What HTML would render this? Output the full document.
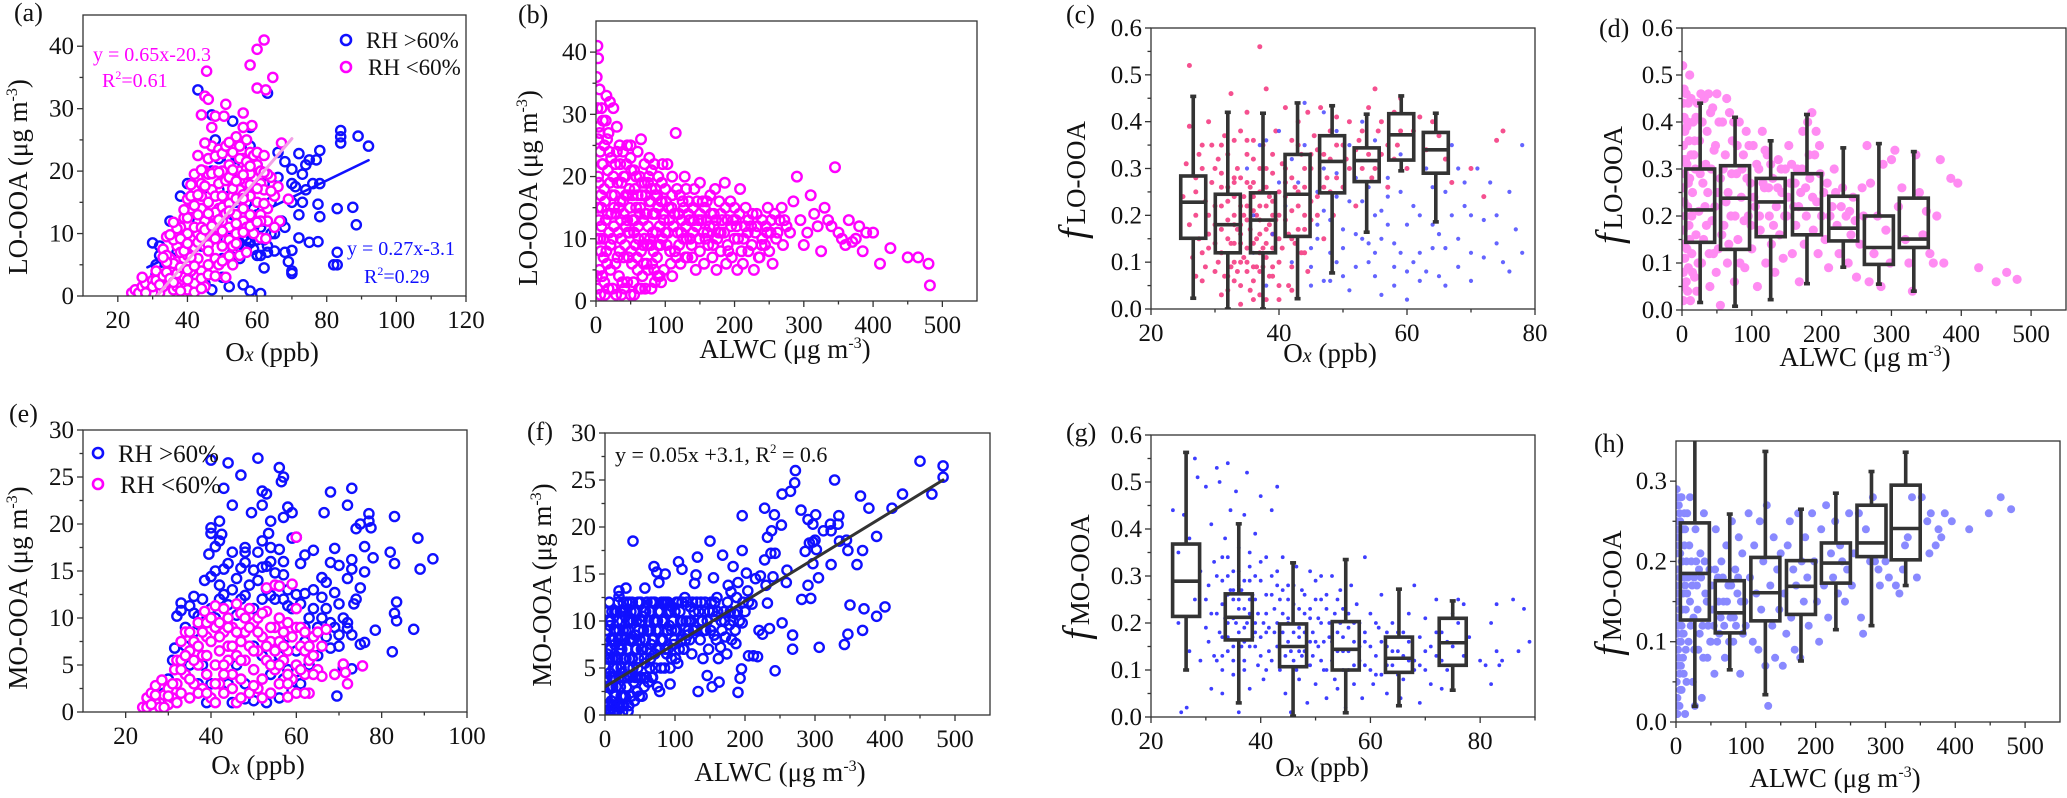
<!DOCTYPE html>
<html><head><meta charset="utf-8"><title>LO-OOA and MO-OOA vs Ox and ALWC</title>
<style>
html,body{margin:0;padding:0;background:#fff;}
svg, svg text{font-family:"Liberation Serif","Times New Roman",serif;}
</style></head>
<body>
<svg id="fig" xmlns="http://www.w3.org/2000/svg" width="2067" height="793" viewBox="0 0 2067 793" font-family="Liberation Serif, serif">
<rect x="0" y="0" width="2067" height="793" fill="#fff"/>
<g id="marks"></g>
<g font-size="26" fill="#111">
<text x="14" y="21">(a)</text>
<text x="518" y="23">(b)</text>
<text x="1066" y="23">(c)</text>
<text x="1599" y="37">(d)</text>
<text x="9" y="422">(e)</text>
<text x="527" y="440">(f)</text>
<text x="1066" y="441">(g)</text>
<text x="1594" y="452">(h)</text>
</g>
<g font-size="27" fill="#111" text-anchor="middle">
<text x="27" y="177" transform="rotate(-90 27 177)">LO-OOA (μg m<tspan dy="-10" font-size="16">-3</tspan><tspan dy="10">)</tspan></text>
<text x="537" y="188" transform="rotate(-90 537 188)">LO-OOA (μg m<tspan dy="-10" font-size="16">-3</tspan><tspan dy="10">)</tspan></text>
<text x="27" y="588" transform="rotate(-90 27 588)">MO-OOA (μg m<tspan dy="-10" font-size="16">-3</tspan><tspan dy="10">)</tspan></text>
<text x="551" y="585" transform="rotate(-90 551 585)">MO-OOA (μg m<tspan dy="-10" font-size="16">-3</tspan><tspan dy="10">)</tspan></text>
<text x="1085" y="180" transform="rotate(-90 1085 180)"><tspan font-style="italic" font-size="38">f</tspan><tspan font-size="27" dx="4">LO-OOA</tspan></text>
<text x="1622" y="185" transform="rotate(-90 1622 185)"><tspan font-style="italic" font-size="38">f</tspan><tspan font-size="27" dx="4">LO-OOA</tspan></text>
<text x="1089" y="577" transform="rotate(-90 1089 577)"><tspan font-style="italic" font-size="38">f</tspan><tspan font-size="27" dx="4">MO-OOA</tspan></text>
<text x="1621" y="593" transform="rotate(-90 1621 593)"><tspan font-style="italic" font-size="38">f</tspan><tspan font-size="27" dx="4">MO-OOA</tspan></text>
<text x="272" y="361">O<tspan font-style="italic" font-size="20">x</tspan> (ppb)</text>
<text x="785" y="358">ALWC (μg m<tspan dy="-10" font-size="16">-3</tspan><tspan dy="10">)</tspan></text>
<text x="1330" y="362">O<tspan font-style="italic" font-size="20">x</tspan> (ppb)</text>
<text x="1865" y="366">ALWC (μg m<tspan dy="-10" font-size="16">-3</tspan><tspan dy="10">)</tspan></text>
<text x="258" y="774">O<tspan font-style="italic" font-size="20">x</tspan> (ppb)</text>
<text x="780" y="781">ALWC (μg m<tspan dy="-10" font-size="16">-3</tspan><tspan dy="10">)</tspan></text>
<text x="1322" y="776">O<tspan font-style="italic" font-size="20">x</tspan> (ppb)</text>
<text x="1835" y="787">ALWC (μg m<tspan dy="-10" font-size="16">-3</tspan><tspan dy="10">)</tspan></text>
</g>
<g font-size="23" fill="#111">
<circle cx="346" cy="40" r="5" fill="none" stroke="#1010ff" stroke-width="2.6"/>
<text x="366" y="48">RH &gt;60%</text>
<circle cx="346" cy="67" r="5" fill="#fff" stroke="#ff00ff" stroke-width="2.6"/>
<text x="368" y="75">RH &lt;60%</text>
<circle cx="98" cy="453" r="5" fill="none" stroke="#1010ff" stroke-width="2.6"/>
<text x="118" y="462" font-size="25">RH &gt;60%</text>
<circle cx="98" cy="484" r="5" fill="#fff" stroke="#ff00ff" stroke-width="2.6"/>
<text x="120" y="493" font-size="25">RH &lt;60%</text>
<text x="93" y="61" font-size="20" fill="#ff00ff">y = 0.65x-20.3</text>
<text x="102" y="87" font-size="20" fill="#ff00ff">R<tspan dy="-8" font-size="12">2</tspan><tspan dy="8">=0.61</tspan></text>
<text x="347" y="255" font-size="20" fill="#1010ff">y = 0.27x-3.1</text>
<text x="364" y="283" font-size="20" fill="#1010ff">R<tspan dy="-8" font-size="12">2</tspan><tspan dy="8">=0.29</tspan></text>
<text x="615" y="462" font-size="22">y = 0.05x +3.1, R<tspan dy="-9" font-size="13">2</tspan><tspan dy="9"> = 0.6</tspan></text>
</g>
</svg>
<script>
// ---------- tick arrays ----------
const aXTicks=[20,40,60,80,100,120], aXMinor=[30,50,70,90,110];
const aYTicks=[0,10,20,30,40], aYMinor=[5,15,25,35];
const bXTicks=[0,100,200,300,400,500], bXMinor=[50,150,250,350,450];
const bYTicks=[0,10,20,30,40], bYMinor=[5,15,25,35];
const fracTicks=[0,0.1,0.2,0.3,0.4,0.5,0.6], fracMinor=[0.05,0.15,0.25,0.35,0.45,0.55];
const cXTicks=[20,40,60,80], cXMinor=[30,50,70];
const eXTicks=[20,40,60,80,100], eXMinor=[30,50,70,90];
const eYTicks=[0,5,10,15,20,25,30], eYMinor=[2.5,7.5,12.5,17.5,22.5,27.5];
const gXTicks=[20,40,60,80], gXMinor=[30,50,70,90];
const hYTicks=[0,0.1,0.2,0.3], hYMinor=[0.05,0.15,0.25];

// ---------- panel (a) data [Ox, LO-OOA] ----------
const aBlue=[43,33,63,32.5,84,26.5,84,25.5,84,24.5,89,25.6,92,24,78,23.3,72,22.8,75,21.8,77,21.8,70,20.3,74,21,68,21.5,66,23,83,14,87.5,14.2,88.5,11.4,77.5,14.7,78,12.7,72,13,73,15,74,17,76,18,78,18,70,18,71,17.5,72,9.3,75,8.6,77.5,8.7,82,5,83,5,83,7,70,7.3,68,7,70,4,70,3.6,69,5.5,62,4.5,58,0.8,61,0.4,56,1.8,52,1.5,50,3,55,6,60,6.5,63,7,65,7.2,67,12,68,11,65,10,62,9,57,9,56,8,58,8.5,55,10,59,11,60,13,57,15,56,18,54,22,52,22,49,22,48,25,47,29,53,28,58,27,38,16,40,18,35,12,30,8.5,32,6.5,31,5,33,4,36,6,40,3,45,2,47,1,44,8,50,11,53,13,46,16,57,19,60,21,62,18,64,15,66,19,70,15,73,19.5,55,8.5,56,9.5,54,7.5,57,7.8];
const aBlue2=[50,6,51,9,52,12,53,7,54,15,55,11,56,14,57,12,58,10,59,14,60,9,61,11,62,12,63,8,64,10,54,18,55,19,57,17,58,17,52,16,50,14,49,17,48,13,47,20,51,20,53,10.5,59,7.5,61,6.5,45,9,43,12,41,13,39,10,37,7,34,5.5,31,3.5,32,8,56,21,58,24,61,19];
const aPink=[62,41,60,39.5,58,37,45.5,36,64.5,35,60,33.3,62.5,33,45,32,46,31.5,51,30.7,44,29,48,28.8,50.5,28.8,56,29.3,58.5,27.3,47,27,56,27,67,24.5,69,15.5,65,16,66,17.5,64,19,66.5,12,65,11,61,9.3,62.5,9.2,24,0.5,25,1,26,0.5,27,1.5,28,2,29,0.8,30,2.5,31,1,32,3,33,7.5,34,9.5,35,6,36,4,37,8,38,11,39,12.5,40,15.5,41,14,42,17,43,19,44,18,45,20,46,19.5,47,17,48,20,49,18,50,20,51,18.5,52,21,53,23,54,25.5,55,24,56,22,57,25,58,23,59,22.5,60,21,61,18,62,17,63,14,60,15,58,13,56,12,54,10,52,9,50,8,48,6,46,5,44,4,42,2,40,1,38,2.5,36,1,34,2,32,0.5,35,4,37,5.5,39,6,41,8,43,10,45,12,47,13,49,14,51,15,53,16,55,17,57,18,59,19,61,13,63,12,40,10,42,11,44,14,46,15,48,16,50,12,52,11,54,13,56,14,58,16,45,8,47,9,49,10,51,6,53,5,55,6.5,57,7,43,6,41,4,39,3,37,1.5,36,9,38,7,40,6.5,44,16,46,22,47,24,49,23.5,52,19,48,11,50,16,43,13,45,24.5,43,22.5,41,16,42,19.5,44,11,46,10,53,8,55,20,57,11,59,10,61,12,49,5,51,3,45,1.5,33,1.5,30,0.5,28,0.5,27,3,31,4,34,6.5];
const aPink2=[30,1.5,31,2.5,32,1.8,33,3.2,34,3.8,35,2.8,36,5.2,37,3.6,38,4.6,39,7.2,40,4.2,41,6.2,42,7.8,43,8.6,44,9.4,45,10.6,46,8.2,47,11.2,48,13.4,49,12.2,50,14.2,51,13.2,52,14.8,53,17.2,54,15.6,55,18.6,56,16.2,57,20.4,58,19.6,59,17.4,60,23,61,20,62,22.5,63,19.5,64,16.8,40,12.5,41,17.8,42,14.5,43,16.2,44,20.2,45,17.6,46,13.2,47,19.6,48,22.4,49,19.8,50,22.8,51,24,52,24.6,53,20.2,54,18.4,55,22,56,19.4,57,21.5,58,20.8,38,9.2,37,10.8,36,11.8,35,9.8,34,5.4,33,6.2,39,13.8,40,8.4,42,4.8,44,2.8,46,3.4,48,3.2,50,5.6,52,6.4,54,8.4,56,10.2,58,11.2,60,11.8,62,14.8,36,2.2,38,0.8,40,2.6,42,0.6,44,1.2,46,7.2,48,9.2,50,10.4,52,13.6,54,11.6,56,15.6,58,17.8,60,17.2,62,19.8];
const aBlueFit=[28.5,92], aBlueSlope=0.27, aBlueIntercept=-3.1;
const aPinkFit=[31.2,70], aPinkSlope=0.65, aPinkIntercept=-20.3;

// ---------- panel (b) data [ALWC, LO-OOA] ----------
const bPink=[2,41,3,39,1,36,5,34,2,31,8,31,4,28,10,29,15,33,20,32,25,31,3,26,6,24,12,25,18,27,22,23,30,28,35,22,40,20,45,25,50,23,55,21,60,24,65,26,70,22,75,19,80,21,85,17,90,20,95,16,100,18,105,15,110,17,115,27,120,14,125,16,130,18,135,13,140,15,145,12,150,14,155,11,160,13,165,17,170,12,175,10,180,14,185,11,190,9,195,12,200,15,205,10,210,8,215,12,220,13,225,9,230,11,235,7,240,10,245,12,250,8,255,6,260,10,265,13,270,9,275,12,280,11,285,16,290,20,295,13,300,9,305,11,310,17,315,14,320,12,325,8,330,15,335,13,340,12,345,21.5,350,11,355,10,360,9,365,13,370,9.5,375,10,380,12,385,8,390,11,400,11,410,6,425,8.5,450,7,465,7,480,6,482,2.5,5,5,8,12,12,18,15,8,18,2,22,14,25,20,28,6,32,11,35,16,38,3,42,9,45,13,48,18,52,6,55,11,58,15,62,2,65,8,68,13,72,17,75,5,78,10,82,14,85,3,88,7,92,12,95,19,98,5,102,9,106,13,110,4,114,8,118,11,122,6,126,10,132,7,138,9,144,5,150,8,156,6,162,9,168,7,174,5,180,8,188,6,196,7,204,5,212,6,220,8,228,5,236,7,244,9,252,11,10,22,20,19,30,24,40,14,50,1,60,17,70,10,80,2,90,15,100,11,110,20,120,9,130,12,140,11,150,19,160,16,170,14,180,11,190,13,200,10,3,15,6,10,9,4,14,13,17,21,26,15,33,4,37,19,44,22,47,7,53,13,57,9,63,20,67,4,73,14,77,23,83,8,87,11,93,9,97,14,103,22,108,6,113,14,117,18,124,13,128,20,134,16,142,18,148,13,154,16,158,10,164,12,172,18,178,16,186,19,194,16,202,13,208,18,216,15,224,12,232,14,240,13,248,15,258,14,268,15,2,2,4,19,7,17,11,7,13,1,16,26,19,11,21,5,24,10,27,17,29,1,31,19,34,8,36,13,39,24,41,2,43,17,46,11,49,15,51,21,54,3,56,18,59,7,61,12,64,15,66,19,69,6,71,2,74,9,76,20,79,16,81,6,84,22,86,18,89,4,91,9,94,3,96,22];
const bPink2=[1,4,2,10,3,20,4,13,5,27,6,1,7,8,8,15,9,22,11,10,12,3,13,16,14,29,16,6,17,14,19,24,21,9,23,17,24,2,26,12,28,22,29,14,31,7,33,15,34,25,36,10,37,1,39,16,40,7,42,20,43,12,45,3,46,17,48,11,50,25,51,8,53,17,55,1,56,13,58,20,60,5,61,10,63,14,65,2,66,17,68,9,70,19,71,14,73,6,75,12,77,16,79,9,80,18,82,11,84,5,86,14,88,17,90,9,92,4,94,16,96,10,98,13,101,16,104,11,107,8,109,15,112,12,116,7,119,14,121,17,123,11,127,15,129,7,131,10,133,14,136,10,139,7,141,13,146,16,149,10,152,13,157,15,161,11,166,14,169,9,173,13,177,11,182,13,187,15,191,8,198,13,203,12,207,14,213,10,219,11,226,14,233,12,239,9,247,11,253,13,262,11,272,13];

// ---------- panel (c) data [Ox, fLO-OOA] ----------
const cPink=[25,0.24,25.5,0.31,26,0.39,26,0.52,26.5,0.11,27,0.2,27,0.28,27.5,0.15,28,0.35,28,0.06,28.5,0.23,29,0.4,29,0.13,29.5,0.27,30,0.18,30,0.08,30.5,0.32,31,0.22,31,0.03,31.5,0.37,32,0.15,32,0.26,32.5,0.46,33,0.1,33,0.2,33.5,0.3,34,0.05,34,0.14,34.5,0.24,35,0.42,35,0.33,35.5,0.17,36,0.09,36,0.27,36.5,0.2,37,0.12,37,0.56,37.5,0.35,38,0.22,38,0.47,38.5,0.07,39,0.29,39,0.16,39.5,0.38,40,0.25,40,0.1,40.5,0.31,41,0.19,41,0.43,41.5,0.05,42,0.28,42,0.36,42.5,0.14,43,0.22,43,0.4,43.5,0.33,44,0.26,44,0.12,44.5,0.42,45,0.3,45,0.19,45.5,0.37,46,0.24,46.5,0.43,47,0.33,47,0.15,47.5,0.28,48,0.38,48.5,0.2,49,0.35,49,0.41,50,0.26,50.5,0.32,51,0.4,52,0.22,52.5,0.36,53,0.3,54,0.43,54.5,0.28,55,0.47,55.5,0.38,56,0.33,57,0.26,58,0.42,58.5,0.35,59,0.45,60,0.3,61,0.38,62,0.41,63,0.34,64,0.4,65,0.37,66,0.32,67,0.27,70,0.3,72,0.24,74,0.36,75,0.38,31,0.12,32,0.19,33,0.24,34,0.18,35,0.13,36,0.21,37,0.16,38,0.11,39,0.2,33,0.06,35,0.08,37,0.03,30,0.14,34,0.28,36,0.32,38,0.26,40,0.15,42,0.21,44,0.3,46,0.34,48,0.25,32,0.33,34,0.38,36,0.36,31,0.29,29,0.2,28,0.12,27,0.07,33,0.14,35,0.22,37,0.25,39,0.13,32.5,0.09,33.5,0.17,34.5,0.11,35.5,0.04,36.5,0.15,37.5,0.09,38.5,0.18,34,0.22,35,0.27,36,0.06,37,0.19,38,0.14,33,0.27,39,0.09];
const cPink2=[30,0.22,30.5,0.1,31,0.17,31.5,0.07,32,0.23,32.5,0.14,33,0.28,33.5,0.08,34,0.16,34.5,0.2,35,0.1,35.5,0.26,36,0.14,36.5,0.09,37,0.22,37.5,0.13,38,0.17,38.5,0.24,39,0.07,39.5,0.19,40,0.2,40.5,0.13,41,0.24,41.5,0.16,42,0.09,42.5,0.26,43,0.17,43.5,0.12,44,0.2,44.5,0.08,30,0.3,31,0.26,32,0.07,33,0.18,34,0.1,35,0.19,36,0.24,37,0.08,38,0.3,39,0.23,40,0.05,41,0.27,42,0.15,43,0.25,44,0.17,45,0.23,46,0.2,47,0.26,48,0.32,49,0.28,50,0.35,51,0.3,52,0.34,53,0.38,54,0.33,55,0.3,56,0.4,57,0.35,58,0.32,59,0.38,27,0.25,28,0.3,29,0.16,26,0.18,27.5,0.33,28.5,0.09,29.5,0.35,31,0.35,33,0.36,35,0.36,37,0.3,39,0.33,41,0.3,43,0.35,45,0.33,36,0.02,34,0.01,38,0.02,32,0.04,40,0.02,42,0.04];
const cBlue=[35,0.3,36,0.2,37,0.35,38,0.05,39,0.16,40,0.38,41,0.22,42,0.1,43,0.27,44,0.44,45,0.05,46,0.18,47,0.3,48,0.12,49,0.24,50,0.07,51,0.35,52,0.16,53,0.4,54,0.1,55,0.2,56,0.03,57,0.28,58,0.14,59,0.33,60,0.08,61,0.22,62,0.12,63,0.3,64,0.18,65,0.07,66,0.25,67,0.35,68,0.15,69,0.22,70,0.06,71,0.3,72,0.11,73,0.27,74,0.2,75,0.1,76,0.25,77,0.17,78,0.35,44,0.35,46,0.25,48,0.06,50,0.17,52,0.28,54,0.14,56,0.21,58,0.09,60,0.02,62,0.06,64,0.26,66,0.13,68,0.3,70,0.2,42,0.32,40,0.27,38,0.36,36,0.12,45,0.13,47,0.21,49,0.1,51,0.04,53,0.23,55,0.12,57,0.18,59,0.25,47,0.42,49,0.38,55,0.36];
const cBlue2=[45,0.09,46,0.15,47,0.06,48,0.19,49,0.29,50,0.13,51,0.23,52,0.09,53,0.15,54,0.26,55,0.07,56,0.15,57,0.24,58,0.05,59,0.12,60,0.18,61,0.1,62,0.2,63,0.08,64,0.13,65,0.16,66,0.05,67,0.2,68,0.09,69,0.27,70,0.12,72,0.19,74,0.14,76,0.08,78,0.12];
const cCenters=[26.6,32,37.5,42.9,48.3,53.7,59.1,64.5];
const cLow=[0.023,0,0,0.022,0.077,0.164,0.295,0.186];
const cQ1=[0.151,0.12,0.12,0.155,0.248,0.272,0.318,0.29];
const cMed=[0.228,0.18,0.19,0.245,0.315,0.317,0.372,0.34];
const cQ3=[0.284,0.245,0.248,0.33,0.37,0.344,0.417,0.377];
const cHigh=[0.454,0.42,0.418,0.44,0.434,0.416,0.455,0.418];

// ---------- panel (d) data [ALWC, fLO-OOA] ----------
const dPink=[2,0.02,3,0.05,2,0.08,4,0.11,3,0.14,2,0.17,5,0.2,3,0.23,2,0.26,4,0.29,3,0.32,2,0.35,4,0.38,3,0.41,2,0.44,3,0.47,1,0.52,8,0.04,9,0.09,7,0.13,10,0.18,8,0.22,9,0.27,7,0.31,10,0.36,8,0.4,9,0.44,6,0.46,12,0.02,14,0.12,15,0.25,13,0.33,16,0.4,18,0.07,20,0.16,19,0.3,22,0.44,24,0.21,25,0.36,28,0.1,30,0.27,32,0.45,35,0.18,36,0.38,40,0.05,42,0.3,44,0.43,47,0.22,48,0.35,50,0.46,52,0.13,55,0.01,55,0.28,58,0.4,60,0.18,62,0.33,65,0.1,66,0.25,68,0.42,70,0.2,72,0.36,75,0.06,78,0.29,80,0.15,82,0.4,85,0.24,88,0.33,90,0.09,92,0.38,95,0.2,98,0.27,100,0.13,102,0.35,105,0.22,108,0.05,110,0.3,112,0.17,115,0.38,118,0.26,120,0.1,122,0.33,125,0.2,128,0.14,130,0.28,133,0.08,135,0.22,138,0.32,140,0.16,143,0.25,145,0.11,148,0.3,150,0.2,153,0.35,155,0.27,158,0.12,160,0.22,163,0.18,165,0.3,168,0.06,170,0.25,173,0.38,175,0.14,178,0.2,180,0.4,183,0.28,186,0.42,188,0.17,190,0.33,193,0.23,195,0.12,198,0.29,200,0.2,205,0.15,208,0.27,210,0.09,215,0.22,218,0.3,222,0.18,225,0.12,230,0.26,235,0.2,238,0.1,242,0.16,245,0.24,250,0.07,255,0.14,260,0.2,265,0.35,268,0.06,270,0.27,275,0.12,280,0.2,285,0.05,288,0.31,292,0.17,298,0.1,300,0.32,305,0.34,310,0.22,315,0.26,320,0.15,325,0.1,330,0.04,335,0.33,340,0.25,345,0.16,350,0.21,355,0.12,360,0.1,365,0.2,370,0.32,375,0.1,385,0.28,395,0.27,425,0.09,450,0.06,465,0.08,480,0.065];
const dPink2=[11,0.28,14,0.2,17,0.33,20,0.41,23,0.1,26,0.29,29,0.4,31,0.15,34,0.31,37,0.25,39,0.12,41,0.42,43,0.19,46,0.34,49,0.08,51,0.25,53,0.4,57,0.16,59,0.3,63,0.23,64,0.45,67,0.14,71,0.29,74,0.4,76,0.2,79,0.35,83,0.1,86,0.3,89,0.19,93,0.28,96,0.35,99,0.18,103,0.24,107,0.31,111,0.2,116,0.27,119,0.34,124,0.26,127,0.31,131,0.18,137,0.26,142,0.3,147,0.2,152,0.24,157,0.31,162,0.27,167,0.22,172,0.3,177,0.26,182,0.33,187,0.24,192,0.38,197,0.35,203,0.25,212,0.2,220,0.25,228,0.22,240,0.21,248,0.19,258,0.26,6,0.06,11,0.5,13,0.45,15,0.08,5,0.32,7,0.39,11,0.15,18,0.36,21,0.04,27,0.46,33,0.22,45,0.12,38,0.46];
const dCenters=[26,76,127,179,231,282,332];
const dLow=[0.016,0.008,0.022,0.056,0.091,0.055,0.04];
const dQ1=[0.144,0.129,0.156,0.16,0.147,0.097,0.133];
const dMed=[0.213,0.238,0.23,0.215,0.174,0.133,0.151];
const dQ3=[0.30,0.307,0.28,0.29,0.242,0.2,0.238];
const dHigh=[0.44,0.41,0.36,0.416,0.345,0.354,0.337];

// ---------- panel (e) data [Ox, MO-OOA] ----------
const eBlue=[40,26.8,44,26.5,51,27,56,26,57,25,56.5,24.5,47,25.2,43,23.8,52,23.5,53,23.2,68,23.4,73,23.8,72,22,45,22,52,22,49.5,21.2,58,21.8,59,21.2,66.5,21.2,77,21.1,77,20.3,75,20,74,19.5,77.5,19.6,83,20.8,42,20.3,40,19.6,40,19,41,17.6,42,18.2,42.5,18.9,48,17.5,48,17,52,18.2,54,17.5,56,17.3,57,20.7,59,18.5,54,20.3,53.5,19,60,18.6,61,15.8,62,16.7,64,17.2,68,15.9,69,17.4,70,15.6,72,14.2,73,16.2,73,15.2,76,17.6,76,14.9,78,16.4,82,17,83,15.8,88.5,18.5,89,15.2,92,16.3,39.5,16.8,38.5,14,40,14.4,42,13.5,43,15.2,44,15.8,46,14.2,47,15.3,48,15.9,50,15.1,52,15.4,54,16,55,14.8,57,14.6,53,13.1,56,13.4,58,13,36,12.3,35,11.3,33,11.6,32,10.2,33,10.8,37,10.2,39,9.5,42,12,44,11.4,46,10.3,48,12.4,50,11,52,12,54,12.4,58,11.3,60,12.5,62,12.6,64,13,66,12.2,66,14.3,67,13.8,69,12.7,70,11.5,71,10,72,8.9,73,8.2,73.5,11.5,74,12,75,13.2,75,7.2,76,7.4,78.5,8.7,82.5,6.4,83,10.5,83.5,11.7,83.5,9.7,87.5,8.8,69.5,1.7,70,7,68,6.8,65,6,63,5,61,3,60,4.3,56,6,58,8,62,9,64,11,31.5,6.8,31,5.5,34,7,36,8.5,38,5,40,3,45,1,48,1.4,50,1.2,53,1,55,5,57,3.5,59,2.3,67,8,68,9.5,70,8.2,72,9.5,71,4.7,73,4.6,30,3.5,29,2,28,1.2];
const eBlue2=[34,9,36,10.5,38,12,40,11,41,10,43,12.5,45,13,47,12,49,13.5,51,14,53,15.5,55,12,57,12,59,11,61,11.5,63,10,65,9,67,11,35,5,37,3,39,1,44,3,46,5,48,3,50,7,52,6,54,4,56,1.5,58,4.5,60,6.5,62,7.5,64,8,66,10,69,9,41,15,45,17,51,17,57,16];
const ePink=[24,0.5,25,1.5,25,0.5,26,2,27,1,27,2.8,28,0.5,28.5,3.4,29,1.8,30,2.5,30,0.8,31,1.5,31.5,4.5,32,5.5,32,3,33,2,33,7.5,34,8.5,34,4,35,6.5,35,1.5,36,3,36,7.5,37,5,37,9.5,38,6,38,2.5,38.5,10.7,39,8,39,4,40,7.5,40,1.5,41,11.3,41,9,41,5,42,3,42,6.5,42,9.5,43,8.5,43,2,44,5.5,44,7,45,4,45,9,46,11.5,46,6,46,1,47,10.5,47,3.5,48,8.5,48,5.5,49,11,49,7,49,2,50,9.5,50,4.5,51,6.5,51,10,52,3.5,52,8,53,10.7,53,5.5,53,13.2,54,7.5,54,2,55,13.5,55,9,55,4.5,56,13.4,56,7.5,56,3,57,5.5,58,9.5,58,1.6,58,6.5,59,13.6,59,3.5,60,18.6,60,9,60,5,61,7,62,4,62,6.5,63,5.5,63,2,64,8,64,6,65,4.5,65,8.5,66,3.8,66,7,67,8.8,69,4,71,5.1,71.5,4.2,72,3,75.5,4.9,44,10,43,11,39,9.5,37,7,35,8.5,33,4.5,47,7.5,51,2.5,57,8.5,61,9];
const ePink2=[26,0.8,27,1.8,29,0.5,30,1.7,31,3,32,1,33,5.5,34,6,35,3.5,36,5.5,37,2,38,8.5,39,6,40,10,41,3,42,8,43,5,44,9,45,7,46,8.5,47,5.5,48,10,49,9,50,6.5,51,8.5,52,10.5,53,7,54,9,55,6.5,56,10,57,7,58,4,59,8,60,11,61,4.5,62,8.5,63,7,64,4,39,2,41,1,43,4,45,2.5,47,1.5,50,2.8,52,1.5,54,5,56,5,58,3,60,2,62,2];

// ---------- panel (f) data [ALWC, MO-OOA] ----------
const fBlue=[450,27,483,26.5,483,25.3,467,23.5,425,23.5,410,22,388,19,365,23.3,377,22,360,16,368,17.5,347,17.5,345,18.6,350,11.7,370,11.3,388,10.5,400,11.5,347,8.6,342,7.5,368,9,306,7.2,268,8.5,268,7,253,9.8,243,4.7,272,26,271,24.7,265,23.8,253,23.5,228,22,242,21.3,252,20.2,238,19.6,232,18.9,196,21.2,150,18.5,40,18.5,168,17,196,17.5,132,16.8,105,16.3,110,15.5,70,15.8,74,15.2,86,15,77,14.1,57,13.5,30,13.5,20,12.6,20,13.2,35,12,328,25,280,21.8,290,20.8,297,20.3,301,21.3,322,20.3,323,19.6,333,20.3,334,21.2,312,19.6,335,18.5,300,18.6,286,17.4,292,18.3,297,18.4,302,17.6,297,16.1,323,16,305,14.6,290,13.8,281,12.3,294,12.4,259,14.1,260,15.4,243,17.2,237,17.2,228,16.5,240,14.7,230,13.8,222,14.8,215,14.5,202,15.1,204,13.2,210,11.8,180,13.1,183,15.8,190,14.1,188,12.5,176,13.8,155,14.6,160,12.5,152,12,130,14.9,128,14,232,11.9,225,8.6,218,6.2,212,6.3,205,6.3,187,7.6,195,4.9,193,3.9,190,2.4,163,3.5,153,3,133,2.5,78,2.5,93,3.3,140,6,146,4.2,165,7.2,172,8.3,178,9.6,185,10.8,196,9.8,220,9,235,9.2,142,11,120,10,115,8,100,9,90,12,95,6,85,5,80,8,72,10,65,6,60,12,55,9,50,4,45,7,40,10,38,2,33,5,28,8,25,11,22,3,18,6,15,9,12,1,10,4,8,7,5,10,3,2,2,5,1,8,4,11,6,0.5,9,3,11,6,13,9,14,0.5,16,3,17,11,19,8,21,1,23,5,24,10,26,2,27,6,29,10.5,31,3,32,7,34,9,36,4,37,11,39,6,42,1.5,43,8.5,44,11,47,5,48,9,49,12,52,7,53,2,54,10.5,57,5.5,58,8,62,3.5,63,9,64,11,66,7.5,68,4,69,12,71,6.5,73,9,75,3,76,11,78,7,82,10,84,12,88,6.5,92,9.5,96,11.5,98,7.5,102,12,104,5.5,108,10,112,7,114,12.5,118,8.5,122,11.5,124,6.5,126,9,136,8,138,10,144,9,148,7,156,8.5,158,10.5,162,6,166,10,170,11,174,6.5,181,8,2,11,7,9.5,3,6.5,0.5,3.5,1,0.5,5,1,7,4.5,9,1.5,12,5,14,7.5,18,10,20,0.8,22,7.5,25,4.5,27,1,30,6,35,8,41,3.5,46,2.5,51,10,56,3];
const fBlue2=[1,2,2,9,3,4,4,1,4,7,6,3,6,12,7,6,8,10,9,8,10,1,10,11,11,3,12,8,13,4,14,11,15,2,15,6,16,9,17,5,18,1,19,12,20,4,20,9,21,7,22,11,23,2,24,7,25,1,26,9,26,12,27,4,28,11,29,2,30,9,31,12,32,4,33,10,34,1,35,6,36,10,37,2,38,8,39,12,40,5,41,8,42,11,43,4,44,7,45,10,46,4,47,12,48,6,49,2,50,8,51,12,52,4,53,10,54,7,55,11,56,6,57,8,58,11,59,4,60,7,61,9,62,10,64,5,65,9,66,12,67,4,68,8,70,10,71,12,72,5,74,7,75,10,77,9,79,11,80,5,81,12,83,8,85,10,86,7,87,12,89,9,90,7,91,11,93,5,94,11,95,9,97,10,99,8,100,11,101,6,103,9,105,12,106,7,107,11,109,8,110,12,111,10,113,7,116,10,117,12,119,9,121,8,123,10,125,12,127,11,129,9,131,12,134,11,137,12,139,10,141,9,143,12,146,10,149,11,151,9,154,11,157,12,159,8,161,11,167,9,171,10,175,12,179,11,183,10,186,9,189,11,192,10,197,12,200,11,205,12,12,0.3,25,0.3,33,0.4,8,0.5,18,0.5];
const fFitX=[0,483], fFitY=[3.0,25.0];

// ---------- panel (g) data [Ox, fMO-OOA] ----------
const gBlue=[24,0.44,25,0.2,25,0.35,25.5,0.01,26,0.43,26.5,0.02,27,0.38,27,0.14,28,0.55,28,0.25,28.5,0.51,29,0.31,29,0.12,30,0.49,30,0.19,30.5,0.28,31,0.06,31,0.41,31.5,0.33,32,0.53,32,0.22,32,0.12,32.5,0.5,33,0.29,33,0.17,33,0.05,33.5,0.38,34,0.54,34,0.26,34,0.14,34.5,0.44,35,0.21,35,0.31,35,0.09,35.5,0.48,36,0.36,36,0.18,36,0.01,36.5,0.27,37,0.43,37,0.23,37,0.12,37.5,0.52,38,0.32,38,0.15,38,0.06,38.5,0.26,39,0.39,39,0.2,39.5,0.11,40,0.47,40,0.29,40,0.17,40.5,0.08,41,0.34,41,0.22,41.5,0.14,42,0.44,42,0.26,42.5,0.18,43,0.49,43,0.31,43.5,0.1,44,0.22,44,0.34,44.5,0.05,45,0.28,45,0.16,45.5,0.01,46,0.24,46,0.12,46.5,0.32,47,0.19,47,0.08,47.5,0.27,48,0.14,48,0.22,48.5,0.03,49,0.31,49,0.11,49.5,0.18,50,0.25,50,0.07,50.5,0.15,51,0.3,51,0.2,51.5,0.1,52,0.26,52,0.04,52.5,0.17,53,0.3,53,0.12,53.5,0.22,54,0.06,54,0.18,54.5,0.27,55,0.14,55,0.23,55.5,0.02,56,0.19,56,0.1,56.5,0.28,57,0.16,57,0.07,57.5,0.24,58,0.12,58,0.2,58.5,0.04,59,0.34,59,0.16,60,0.1,60,0.22,60.5,0.07,61,0.13,61.5,0.19,62,0.26,62,0.09,63,0.15,63,0.05,64,0.2,64,0.11,65,0.14,65.5,0.04,66,0.18,66,0.08,67,0.22,67,0.12,68,0.1,68,0.28,69,0.17,69,0.03,70,0.21,70,0.14,71,0.07,72,0.25,72,0.13,73,0.18,73,0.06,74,0.1,75,0.22,75,0.15,76,0.25,76,0.2,77,0.13,77,0.24,78,0.17,80,0.12,81,0.11,82,0.2,83,0.24,83,0.14,83.5,0.11,84,0.12,87,0.14,88,0.23,89,0.16,82,0.07,86,0.25,33,0.24,34,0.2,35,0.25,36,0.23,37,0.19,38,0.22,39,0.25,34,0.3,36,0.28,38,0.29,33,0.1,35,0.15,37,0.16,39,0.15,41,0.18,43,0.2,45,0.21,47,0.14,49,0.16];
const gBlue2=[30,0.25,30.5,0.16,31,0.22,31.5,0.13,32,0.3,32.5,0.18,33,0.34,33.5,0.21,34,0.17,34.5,0.27,35,0.12,35.5,0.2,36,0.25,36.5,0.15,37,0.29,37.5,0.2,38,0.25,38.5,0.17,39,0.3,39.5,0.22,40,0.13,40.5,0.2,41,0.26,41.5,0.19,42,0.12,42.5,0.23,43,0.15,43.5,0.25,44,0.18,44.5,0.13,45,0.2,45.5,0.14,46,0.18,46.5,0.1,47,0.23,47.5,0.13,48,0.18,48.5,0.11,49,0.21,49.5,0.13,50,0.16,50.5,0.21,51,0.12,51.5,0.16,52,0.1,52.5,0.2,53,0.16,53.5,0.08,54,0.14,54.5,0.2,55,0.1,56,0.14,57,0.2,58,0.15,59,0.11,60,0.15,61,0.09,62,0.16,63,0.11,64,0.14,65,0.09,66,0.13,67,0.16,68,0.12,69,0.11,70,0.1,71,0.15,72,0.18,73,0.12,74,0.16,33,0.13,35,0.27,37,0.1,39,0.18,41,0.1,43,0.28,45,0.25,47,0.17,49,0.23,51,0.25,53,0.2,55,0.17,57,0.11,59,0.18,61,0.2,63,0.18,65,0.18,34,0.34,36,0.31,38,0.35,40,0.33,42,0.3,44,0.27,46,0.28,48,0.26,50,0.29,52,0.23,54,0.25,56,0.22];
const gCenters=[26.4,36,45.9,55.5,65.2,75];
const gLow=[0.1,0.03,0.002,0.009,0.024,0.057];
const gQ1=[0.214,0.164,0.107,0.1,0.095,0.11];
const gMed=[0.289,0.212,0.15,0.144,0.125,0.158];
const gQ3=[0.368,0.262,0.198,0.203,0.17,0.21];
const gHigh=[0.563,0.411,0.328,0.335,0.272,0.247];

// ---------- panel (h) data [ALWC, fMO-OOA] ----------
const hBlue=[1,0.01,2,0.03,1,0.05,2,0.07,1,0.09,2,0.11,1,0.13,2,0.15,1,0.17,2,0.19,1,0.21,2,0.23,1,0.25,2,0.27,1,0.29,5,0.02,5,0.06,5,0.1,5,0.14,5,0.18,5,0.22,5,0.26,8,0.04,8,0.12,8,0.2,8,0.28,10,0.08,10,0.16,10,0.24,13,0.01,15,0.05,18,0.1,14,0.14,17,0.18,12,0.22,16,0.26,20,0.28,22,0.2,25,0.13,24,0.05,28,0.24,30,0.17,32,0.09,27,0.02,35,0.21,37,0.03,38,0.12,40,0.26,42,0.16,45,0.08,48,0.19,50,0.1,52,0.14,55,0.06,57,0.24,60,0.18,62,0.11,65,0.2,68,0.15,70,0.08,72,0.22,75,0.17,78,0.13,80,0.25,82,0.1,85,0.19,88,0.16,90,0.23,92,0.06,95,0.21,98,0.15,100,0.12,104,0.26,106,0.18,110,0.1,112,0.22,115,0.16,118,0.09,120,0.25,122,0.14,125,0.2,128,0.07,130,0.27,132,0.02,135,0.17,138,0.12,140,0.23,142,0.08,145,0.19,148,0.14,150,0.21,153,0.07,155,0.16,158,0.11,160,0.22,163,0.25,165,0.13,168,0.19,170,0.09,172,0.17,175,0.26,178,0.08,180,0.2,183,0.15,185,0.23,188,0.18,190,0.12,195,0.26,198,0.2,202,0.15,205,0.1,208,0.24,212,0.17,215,0.27,218,0.13,222,0.21,225,0.18,228,0.25,232,0.16,235,0.22,238,0.2,242,0.15,245,0.19,248,0.26,252,0.17,255,0.21,262,0.26,265,0.13,268,0.11,272,0.24,278,0.2,282,0.28,285,0.2,290,0.19,292,0.17,300,0.2,305,0.18,315,0.17,320,0.16,325,0.19,328,0.22,332,0.23,338,0.28,345,0.18,352,0.28,360,0.25,363,0.21,365,0.26,372,0.22,376,0.24,380,0.23,385,0.26,395,0.25,420,0.24,448,0.26,465,0.28,480,0.265,15,0.2,20,0.15,26,0.18,33,0.19,3,0.12,6,0.16];
const hBlue2=[3,0.02,4,0.08,6,0.04,7,0.1,9,0.14,11,0.18,12,0.26,14,0.09,16,0.16,19,0.22,21,0.12,23,0.17,26,0.09,29,0.2,31,0.14,34,0.11,36,0.18,39,0.08,41,0.2,44,0.15,46,0.12,49,0.1,51,0.17,54,0.12,56,0.19,59,0.1,61,0.15,64,0.13,67,0.18,69,0.12,73,0.15,76,0.1,79,0.17,83,0.13,86,0.12,89,0.18,93,0.15,96,0.11,3,0.19,4,0.22,6,0.25,7,0.28,9,0.2,11,0.06,13,0.24,4,0.27,6,0.21,3,0.09,7,0.07,3,0.16,9,0.11,11,0.11,13,0.17,2,0.28,2,0.01,3,0.24];
const hCenters=[27,77,128,179,229,280,329];
const hLow=[0.0195,0.065,0.034,0.076,0.115,0.12,0.17];
const hQ1=[0.127,0.111,0.126,0.134,0.173,0.206,0.202];
const hMed=[0.185,0.136,0.161,0.169,0.198,0.223,0.241];
const hQ3=[0.248,0.176,0.205,0.201,0.223,0.27,0.295];
const hHigh=[0.4,0.259,0.337,0.265,0.285,0.312,0.336];

// ---------- drawing ----------
const NS='http://www.w3.org/2000/svg';
const root=document.getElementById('marks');
function mk(tag,attrs,parent){const e=document.createElementNS(NS,tag);for(const k in attrs)e.setAttribute(k,attrs[k]);(parent||root).appendChild(e);return e;}
function panel(id,l,r,t,b,x0,x1,y0,y1){
  const g=mk('g',{});
  
  
  const cp=mk('clipPath',{id:'clip-'+id},g);
  mk('rect',{x:l,y:t,width:r-l,height:b-t},cp);
  const plot=mk('g',{'clip-path':'url(#clip-'+id+')'},g);
  
  
  return {id,l,r,t,b,g,plot,sx:v=>l+(v-x0)/(x1-x0)*(r-l),sy:v=>b-(v-y0)/(y1-y0)*(b-t)};
}
function fmt(v,d){return d>0?v.toFixed(d):String(v);}
function axes(P,xt,xm,yt,ym,xd,yd){
  const ax=mk('g',{stroke:'#333','stroke-width':1.3,fill:'none'},P.g);
  
  
  const fr=mk('rect',{x:P.l,y:P.t,width:P.r-P.l,height:P.b-P.t},ax);
  
  
  const lab=mk('g',{'font-size':25,fill:'#111','font-family':'Liberation Serif, serif'},P.g);
  
  
  xt.forEach(v=>{const x=P.sx(v);
    mk('line',{x1:x,x2:x,y1:P.b,y2:P.b+6},ax);
    const tx=mk('text',{x:x,y:P.b+32,'text-anchor':'middle'},lab);tx.textContent=fmt(v,xd);
    
    });
  xm.forEach(v=>{const x=P.sx(v);mk('line',{x1:x,x2:x,y1:P.b,y2:P.b+3.5},ax);});
  yt.forEach(v=>{const y=P.sy(v);
    mk('line',{x1:P.l-6,x2:P.l,y1:y,y2:y},ax);
    const tx=mk('text',{x:P.l-9,y:y+8,'text-anchor':'end'},lab);tx.textContent=fmt(v,yd);
    
    });
  ym.forEach(v=>{const y=P.sy(v);mk('line',{x1:P.l-3.5,x2:P.l,y1:y,y2:y},ax);});
}
function scatter(P,arr,name,r,fill,stroke,sw,op){
  const g=mk('g',{fill:fill,stroke:stroke,'stroke-width':sw,opacity:op},P.plot);
  
  
  for(let i=0;i<arr.length;i+=2){
    const c=mk('circle',{cx:P.sx(arr[i]).toFixed(1),cy:P.sy(arr[i+1]).toFixed(1),r:r},g);
    
    
  }
}
function fitLine(P,xa,xb,ya,yb,color,w,name){
  const l=mk('line',{x1:P.sx(xa),y1:P.sy(ya),x2:P.sx(xb),y2:P.sy(yb),stroke:color,'stroke-width':w,'stroke-linecap':'round'},P.plot);
  
  
}
function boxes(P,cen,lo,q1,md,q3,hi,w,name){
  const g=mk('g',{stroke:'#333','stroke-width':3.6,fill:'none'},P.plot);
  
  
  cen.forEach((c,i)=>{const x=P.sx(c);
    const bx=mk('g',{},g);
    
    
    mk('line',{x1:x,x2:x,y1:P.sy(hi[i]),y2:P.sy(q3[i])},bx);
    mk('line',{x1:x,x2:x,y1:P.sy(q1[i]),y2:P.sy(lo[i])},bx);
    mk('line',{x1:x-3,x2:x+3,y1:P.sy(hi[i]),y2:P.sy(hi[i])},bx);
    mk('line',{x1:x-3,x2:x+3,y1:P.sy(lo[i]),y2:P.sy(lo[i])},bx);
    mk('rect',{x:x-w/2,y:P.sy(q3[i]),width:w,height:P.sy(q1[i])-P.sy(q3[i])},bx);
    mk('line',{x1:x-w/2,x2:x+w/2,y1:P.sy(md[i]),y2:P.sy(md[i])},bx);
  });
}

// (a)
const A=panel('a',83,466,15,296,10,120,0,45);
scatter(A,aBlue.concat(aBlue2),'rh-high-points-a',4.6,'none','#1010ff',2.4,1);
fitLine(A,aBlueFit[0],aBlueFit[1],aBlueSlope*aBlueFit[0]+aBlueIntercept,aBlueSlope*aBlueFit[1]+aBlueIntercept,'#1010ff',2.6,'fit-line-rh-high-a');
scatter(A,aPink.concat(aPink2),'rh-low-points-a',4.6,'#fff','#ff00ff',2.4,1);
fitLine(A,aPinkFit[0],aPinkFit[1],aPinkSlope*aPinkFit[0]+aPinkIntercept,aPinkSlope*aPinkFit[1]+aPinkIntercept,'#f3a0e6',3,'fit-line-rh-low-a');
axes(A,aXTicks,aXMinor,aYTicks,aYMinor,0,0);
// (b)
const B=panel('b',596,977,21,301,0,550,0,45);
scatter(B,bPink.concat(bPink2),'lo-ooa-points-b',4.8,'none','#ff00ff',2.4,1);
axes(B,bXTicks,bXMinor,bYTicks,bYMinor,0,0);
// (c)
const C=panel('c',1151,1535,28,309,20,80,0,0.6);
scatter(C,cPink.concat(cPink2),'rh-low-points-c',2.5,'#f5508f','none',0,1);
scatter(C,cBlue.concat(cBlue2),'rh-high-points-c',2.1,'#4a4aff','none',0,0.85);
boxes(C,cCenters,cLow,cQ1,cMed,cQ3,cHigh,25,'boxplot-c');
axes(C,cXTicks,cXMinor,fracTicks,fracMinor,0,1);
// (d)
const D=panel('d',1682,2066,28,310,0,550,0,0.6);
scatter(D,dPink.concat(dPink2),'lo-ooa-fraction-points-d',4.6,'#ff77f0','none',0,0.85);
boxes(D,dCenters,dLow,dQ1,dMed,dQ3,dHigh,29,'boxplot-d');
axes(D,bXTicks,bXMinor,fracTicks,fracMinor,0,1);
// (e)
const E=panel('e',83,467,430,712,10,100,0,30);
scatter(E,eBlue.concat(eBlue2),'rh-high-points-e',4.6,'none','#1010ff',2.4,1);
scatter(E,ePink.concat(ePink2),'rh-low-points-e',4.6,'#fff','#ff00ff',2.4,1);
axes(E,eXTicks,eXMinor,eYTicks,eYMinor,0,0);
// (f)
const F=panel('f',605,990,433,715,0,550,0,30);
scatter(F,fBlue.concat(fBlue2),'mo-ooa-points-f',4.6,'none','#1010ff',2.4,1);
fitLine(F,fFitX[0],fFitX[1],fFitY[0],fFitY[1],'#333',3,'fit-line-f');
axes(F,bXTicks,bXMinor,eYTicks,eYMinor,0,0);
// (g)
const G=panel('g',1151,1535,435,717,20,90,0,0.6);
scatter(G,gBlue.concat(gBlue2),'mo-ooa-fraction-points-g',1.9,'#2a2aff','none',0,0.9);
boxes(G,gCenters,gLow,gQ1,gMed,gQ3,gHigh,27,'boxplot-g');
axes(G,gXTicks,gXMinor,fracTicks,fracMinor,0,1);
// (h)
const H=panel('h',1676,2060,441,722,0,550,0,0.35);
scatter(H,hBlue.concat(hBlue2),'mo-ooa-fraction-points-h',4,'#3b3bff','none',0,0.6);
boxes(H,hCenters,hLow,hQ1,hMed,hQ3,hHigh,29,'boxplot-h');
axes(H,bXTicks,bXMinor,hYTicks,hYMinor,0,1);
</script>
</body></html>
